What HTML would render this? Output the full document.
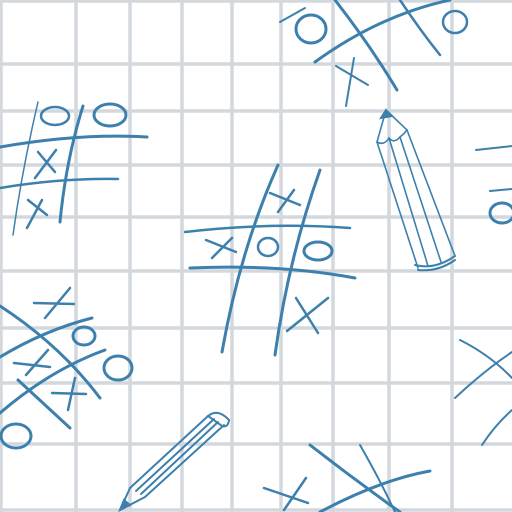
<!DOCTYPE html>
<html><head><meta charset="utf-8"><style>
html,body{margin:0;padding:0;background:#fff;width:512px;height:512px;overflow:hidden}
svg{display:block}
</style></head><body>
<svg width="512" height="512" viewBox="0 0 512 512">
<rect width="512" height="512" fill="#fff"/>
<g stroke="#d3d8dd" stroke-width="3.5">
<line x1="1" y1="0" x2="1" y2="512"/><line x1="76" y1="0" x2="76" y2="512"/><line x1="130" y1="0" x2="130" y2="512"/><line x1="182" y1="0" x2="182" y2="512"/><line x1="232" y1="0" x2="232" y2="512"/><line x1="281" y1="0" x2="281" y2="512"/><line x1="333" y1="0" x2="333" y2="512"/><line x1="389" y1="0" x2="389" y2="512"/><line x1="452" y1="0" x2="452" y2="512"/>
<line x1="0" y1="1" x2="512" y2="1"/><line x1="0" y1="64" x2="512" y2="64"/><line x1="0" y1="111" x2="512" y2="111"/><line x1="0" y1="165" x2="512" y2="165"/><line x1="0" y1="217" x2="512" y2="217"/><line x1="0" y1="271" x2="512" y2="271"/><line x1="0" y1="328" x2="512" y2="328"/><line x1="0" y1="383" x2="512" y2="383"/><line x1="0" y1="444" x2="512" y2="444"/><line x1="0" y1="510" x2="512" y2="510"/>
</g>
<g fill="none" stroke="#3d80ad" stroke-linecap="round">
<g>
<path d="M38 102 Q22 170 13 235" stroke-width="1.5"/><path d="M83 106 Q66 160 60 222" stroke-width="3"/>
<path d="M0 147 Q80 133 147 137" stroke-width="3"/><path d="M0 188 Q60 178 118 179" stroke-width="2.5"/>
<ellipse cx="55" cy="116" rx="14" ry="9" stroke-width="2.5"/><ellipse cx="110" cy="115" rx="16" ry="11" stroke-width="3"/>
<path d="M38 152 L55 172 M56 150 L35 178 M28 200 L47 215 M42 200 L27 228" stroke-width="2.5"/>
</g>
<g>
<path d="M278 165 Q240 250 222 352" stroke-width="3"/><path d="M320 170 Q288 260 275 355" stroke-width="3"/>
<path d="M185 232 Q270 222 350 228" stroke-width="2.5"/><path d="M190 268 Q280 264 355 278" stroke-width="3"/>
<ellipse cx="268" cy="247" rx="10" ry="9" stroke-width="2.5"/><ellipse cx="318" cy="251" rx="14" ry="9" stroke-width="3"/>
<path d="M206 240 L236 252 M232 238 L212 258 M270 193 L300 205 M294 190 L278 212 M296 298 L318 333 M328 298 L287 331" stroke-width="2.5"/>
</g>
<g>
<path d="M335 0 Q370 45 397 90" stroke-width="3"/><path d="M315 62 Q380 15 450 0" stroke-width="3"/>
<path d="M400 0 Q420 30 440 55" stroke-width="2.5"/>
<ellipse cx="311" cy="29" rx="15" ry="14" stroke-width="3"/><ellipse cx="455" cy="22" rx="12" ry="11" stroke-width="2.5"/>
<path d="M336 66 L368 85 M354 58 L346 106 M280 22 L305 8" stroke-width="2"/>
</g>
<g stroke-width="1.6">
<path d="M386 110 L381 118 L392 116 Z" fill="#3d80ad" stroke-width="2"/>
<path d="M386 110 L377 142 M386 110 L407 130"/>
<path d="M377 142 Q384 146 389 138 Q394 144 400 137 Q404 134 407 130"/>
<path d="M377 142 L418 268 M389 138 L428 266 M400 137 L441 262 M407 130 L455 256"/>
<path d="M415 265 Q435 270 455 256 M418 270 Q438 272 455 260" stroke-width="2"/>
</g>
<g stroke-width="2">
<path d="M476 150 L512 146 M490 191 L512 189"/><ellipse cx="502" cy="213" rx="12" ry="10" stroke-width="3"/>
<path d="M460 340 Q490 355 512 378 M455 398 Q485 370 512 352 M482 445 Q495 425 512 410"/>
</g>
<g>
<path d="M0 306 Q60 345 100 398" stroke-width="3"/><path d="M0 357 Q45 330 92 318" stroke-width="3"/>
<path d="M0 413 Q50 370 105 350" stroke-width="3"/><path d="M18 380 Q45 405 70 428" stroke-width="3"/>
<ellipse cx="84" cy="336" rx="11" ry="9" stroke-width="3"/><ellipse cx="118" cy="368" rx="14" ry="12" stroke-width="3"/><ellipse cx="16" cy="436" rx="15" ry="12" stroke-width="3"/>
<path d="M34 303 L74 304 M70 288 L45 318 M14 363 L50 367 M48 350 L26 375 M52 393 L86 394 M75 378 L68 410" stroke-width="2.5"/>
</g>
<g stroke-width="2">
<path d="M120 510 L124 500 L130 505 Z" fill="#3d80ad"/>
<path d="M120 510 L130 488 M120 510 L145 497"/>
<path d="M130 488 L208 416 M145 497 L224 425 M136 491 L214 419 M141 494 L218 422"/>
<path d="M208 416 Q218 408 229 420 Q228 428 222 426 Z"/>
</g>
<g>
<path d="M264 488 L308 503 M306 478 L284 510" stroke-width="2.5"/>
<path d="M310 445 Q355 480 400 512" stroke-width="3"/><path d="M320 512 Q380 480 430 471" stroke-width="3"/>
<path d="M360 445 Q380 480 395 512" stroke-width="2"/>
</g>
</g>
</svg>
</body></html>
